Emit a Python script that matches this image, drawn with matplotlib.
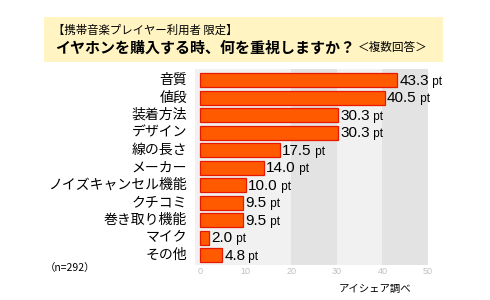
import matplotlib
matplotlib.use("Agg")
import matplotlib.pyplot as plt
from matplotlib.patches import Rectangle

plt.rcParams['font.family'] = ['Noto Sans CJK JP', 'DejaVu Sans']

# data
items = ["音質", "値段", "装着方法", "デザイン", "線の長さ", "メーカー",
         "ノイズキャンセル機能", "クチコミ", "巻き取り機能", "マイク", "その他"]
values = [43.3, 40.5, 30.3, 30.3, 17.5, 14.0, 10.0, 9.5, 9.5, 2.0, 4.8]
ticks = [0, 10, 20, 30, 40, 50]

W, H = 490, 300
fig = plt.figure(figsize=(4.9, 3.0), dpi=100)
fig.patch.set_facecolor("white")

def fx(px):
    return px / W

def fy(py):
    return 1 - py / H

# title box
fig.patches.append(Rectangle((fx(44), fy(62)), fx(443) - fx(44), fy(17) - fy(62),
                             transform=fig.transFigure, facecolor="#fff4c2",
                             edgecolor="none", zorder=0))
fig.text(fx(53), fy(30), "【携帯音楽プレイヤー利用者 限定】", fontsize=8.2,
         va="center", ha="left")
fig.text(fx(55), fy(48), "イヤホンを購入する時、何を重視しますか？", fontsize=10.8,
         fontweight="bold", va="center", ha="left")
fig.text(fx(358), fy(48), "＜複数回答＞", fontsize=8.4, va="center", ha="left")

# axes
ax = fig.add_axes([fx(195), fy(265), fx(428) - fx(195), fy(69) - fy(265)])
ax.set_xlim(-1.1, 50)
ax.set_ylim(len(items) - 1 + 0.57, -0.63)

bands = [(-1.1, 20, "#f1f1f1"), (20, 30, "#e3e3e3"), (30, 40, "#f1f1f1"), (40, 50, "#e3e3e3")]
for a, b, c in bands:
    ax.axvspan(a, b, color=c, zorder=0, lw=0)

pos = list(range(len(items)))
ax.barh(pos, values, height=0.8, left=0, color="#ff5a00", edgecolor="#e81800",
        linewidth=0.9, zorder=2)

for p, v in zip(pos, values):
    txt = ax.text(v + 0.5, p + 0.05, f"{v:.1f}", fontsize=11, va="center", ha="left",
                  family="Liberation Sans", zorder=3)
    ax.annotate(" pt", xy=(1, 0.5), xycoords=txt, fontsize=8.5, va="center", ha="left",
                family="Liberation Sans", xytext=(0, -0.5), textcoords="offset points")

ax.set_yticks([])
ax.set_xticks([])
for s in ax.spines.values():
    s.set_visible(False)

for tk in ticks:
    fig.text(fx(200 + tk * 4.56), fy(272), str(tk), fontsize=6.5, color="#c0c0c0",
             ha="center", va="center", family="Liberation Sans")

for p, name in zip(pos, items):
    fig.text(fx(187), fy(80 + p * 17.5), name, fontsize=10, ha="right", va="center")

fig.text(fx(45), fy(268), "（n=292）", fontsize=7.5, ha="left", va="center")
fig.text(fx(375), fy(289), "アイシェア調べ", fontsize=7.5, ha="center", va="center")

fig.savefig("out.png", dpi=100)
